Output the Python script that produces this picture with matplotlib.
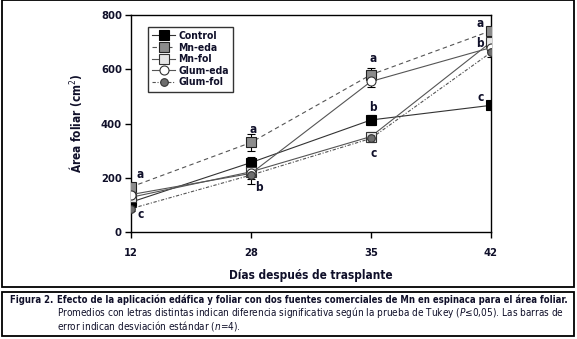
import matplotlib
matplotlib.use("Agg")
import matplotlib.pyplot as plt
from matplotlib.patches import Rectangle

plt.rcParams['font.family'] = ['DejaVu Sans']
plt.rcParams['font.stretch'] = 'condensed'
plt.rcParams['mathtext.fontset'] = 'custom'
plt.rcParams['mathtext.it'] = 'DejaVu Sans:italic'
plt.rcParams['mathtext.rm'] = 'DejaVu Sans'

TXT = '#10102a'

days = ['12', '28', '35', '42']
control = [110, 256, 413, 467]
mn_eda = [166, 330, 580, 742]
mn_fol = [128, 222, 352, 700]
glum_eda = [138, 216, 555, 680]
glum_fol = [86, 210, 345, 662]

err_control = [15, 20, 20, 10]
err_mn_eda = [10, 30, 25, 15]
err_mn_fol = [10, 15, 18, 15]
err_glum_eda = [10, 40, 20, 15]
err_glum_fol = [10, 15, 15, 15]

letters_top = ['a', 'a', 'a', 'a']
letters_top_y = [212, 378, 640, 768]
letters_mid = ['', '', 'b', 'b']
letters_mid_y = [0, 0, 460, 695]
letters_low = ['c', 'b', 'c', 'c']
letters_low_y = [65, 165, 290, 495]

fig = plt.figure(figsize=(5.77, 3.39), dpi=100)
ax = fig.add_axes([131/577, 1-232/339, 360/577, 217/339])
x = list(range(len(days)))

series = [
    ('Control', control, err_control, dict(marker='s', mfc='black', mec='black', ls='-', color='#333333', ms=6.5)),
    ('Mn-eda', mn_eda, err_mn_eda, dict(marker='s', mfc='#8c8c8c', mec='#222222', ls=(0, (4, 3)), color='#555555', ms=6.5)),
    ('Mn-fol', mn_fol, err_mn_fol, dict(marker='s', mfc='#e6e6e6', mec='#333333', ls='-', color='#555555', ms=6.5)),
    ('Glum-eda', glum_eda, err_glum_eda, dict(marker='o', mfc='white', mec='#333333', ls='-', color='#555555', ms=6.5)),
    ('Glum-fol', glum_fol, err_glum_fol, dict(marker='o', mfc='#6e6e6e', mec='#333333', ls=(0, (3, 1.5, 1, 1.5)), color='#555555', ms=5.5)),
]
for name, vals, err, st in series:
    ax.errorbar(x, vals, yerr=err, fmt='none', ecolor='black', elinewidth=0.8, capsize=3, capthick=0.8, zorder=2)
for name, vals, err, st in series:
    ax.plot(x, vals, label=name, lw=0.8, mew=0.8, zorder=3, **st)

top_dx = [0.08, 0.02, 0.02, -0.09]
mid_dx = [0, 0, 0.02, -0.09]
low_dx = [0.08, 0.07, 0.02, -0.09]
for i in x:
    ax.text(i + top_dx[i], letters_top_y[i], letters_top[i], ha='center', va='center', fontsize=8.5, fontweight='bold', color=TXT)
    if letters_mid[i]:
        ax.text(i + mid_dx[i], letters_mid_y[i], letters_mid[i], ha='center', va='center', fontsize=8.5, fontweight='bold', color=TXT)
    ax.text(i + low_dx[i], letters_low_y[i], letters_low[i], ha='center', va='center', fontsize=8.5, fontweight='bold', color=TXT)

ax.set_xlim(0, 3)
ax.set_ylim(0, 800)
ax.set_xticks(x)
ax.set_xticklabels(days)
ax.set_yticks([0, 200, 400, 600, 800])
ax.tick_params(direction='out', length=4.5, width=1, labelsize=8, colors='black', labelcolor=TXT)
ax.tick_params(axis='x', pad=7)
ax.tick_params(axis='y', pad=2)
for lab in ax.get_xticklabels() + ax.get_yticklabels():
    lab.set_fontweight('bold')
for s in ax.spines.values():
    s.set_linewidth(1)
ax.set_xlabel('Días después de trasplante', fontsize=8.5, fontweight='bold', color=TXT, labelpad=8)
ax.set_ylabel('Área foliar (cm$^{2}$)', fontsize=8.5, fontweight='bold', color=TXT, labelpad=12)

leg = ax.legend(loc='upper left', bbox_to_anchor=(0.047, 0.945), fontsize=7.5, frameon=True, fancybox=False,
                edgecolor='black', handlelength=2.2, handletextpad=0.3, borderpad=0.4, labelspacing=0.15,
                borderaxespad=0)
leg.get_frame().set_linewidth(1)
for t in leg.get_texts():
    t.set_fontweight('bold')
    t.set_color(TXT)

# outer frames
fig.patches.append(Rectangle((2/577, 1-287/339), 572/577, 287/339, transform=fig.transFigure,
                             fill=False, lw=1.3, ec='black'))
fig.patches.append(Rectangle((2/577, 1-336/339), 572/577, 44/339, transform=fig.transFigure,
                             fill=False, lw=1.3, ec='black'))

renderer = fig.canvas.get_renderer()

def fit_size(s, width_px, **kw):
    t = fig.text(0, 0, s, fontsize=8, **kw)
    w = t.get_window_extent(renderer).width
    t.remove()
    return 8 * width_px / w

line1 = 'Efecto de la aplicación edáfica y foliar con dos fuentes comerciales de Mn en espinaca para el área foliar.'
line2 = 'Promedios con letras distintas indican diferencia significativa según la prueba de Tukey ($\\mathit{P}$≤0,05). Las barras de'
line3 = 'error indican desviación estándar ($\\mathit{n}$=4).'
fs_b = fit_size(line1, 513, fontweight='bold')
fs_r = fit_size(line2, 510)

fig.text(10/577, 1-300/339, 'Figura 2.', fontsize=fs_b, fontweight='bold', color=TXT, va='center')
fig.text(57/577, 1-300/339, line1, fontsize=fs_b, fontweight='bold', color=TXT, va='center')
fig.text(57/577, 1-313/339, line2, fontsize=fs_r, color=TXT, va='center')
fig.text(57/577, 1-326/339, line3, fontsize=fs_r, color=TXT, va='center')

fig.savefig('out.png', dpi=100)
